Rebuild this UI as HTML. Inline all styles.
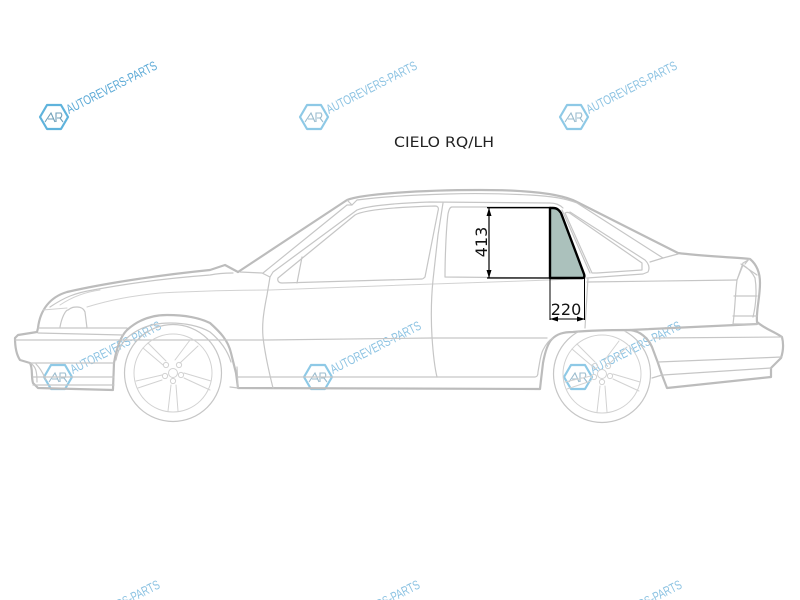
<!DOCTYPE html>
<html><head><meta charset="utf-8"><style>
html,body{margin:0;padding:0;background:#fff;width:800px;height:600px;overflow:hidden}
svg{display:block}
.o{fill:none;stroke:#bcbcbc;stroke-width:2.2;stroke-linejoin:round;stroke-linecap:round}
.m{fill:none;stroke:#c6c6c6;stroke-width:1.2;stroke-linejoin:round;stroke-linecap:round}
.t{fill:none;stroke:#d2d2d2;stroke-width:1;stroke-linejoin:round;stroke-linecap:round}
.d{font-family:"DejaVu Sans",sans-serif;font-size:16px;fill:#111}
.wm{font-family:"Liberation Sans",sans-serif;font-size:13px;fill:#5aa9d6}
.soft{filter:blur(.3px)}
</style></head><body>
<svg width="800" height="600" viewBox="0 0 800 600" xmlns="http://www.w3.org/2000/svg">
<defs>
<clipPath id="rc"><rect x="540" y="331.5" width="130" height="100"/></clipPath>
<g id="wh">
<circle r="39" class="t"/>
<circle r="4.5" class="t"/>
<circle cx="-7" cy="-8" r="2.6" class="t"/><circle cx="6" cy="-8" r="2.6" class="t"/><circle cx="8" cy="2" r="2.6" class="t"/><circle cx="0" cy="8" r="2.6" class="t"/><circle cx="-8" cy="3" r="2.6" class="t"/>
<path class="t" d="M-37 8L-11 2M-35 15L-11 7M38 8L11 0M37 17L11 5M-5 38L-2 12M5 38L3 12M-25 -30L-7 -12M-30 -25L-10 -8M17 -33L2 -13M25 -27L7 -10"/>
</g>
<g id="logo">
<path d="M-7 -12H7L14 0L7 12H-7L-14 0Z" fill="none" stroke="#5fb3dc" stroke-width="2.2" stroke-linejoin="round"/>
<path d="M-9 5L-3 -4L1 5M-6 2H0M2 5V-4H7Q9 -1 6 1H3M6 1L9 5" fill="none" stroke="#6f9fb8" stroke-width="1.1"/>
</g>
<g id="wmk">
<use href="#logo"/>
<text class="wm" x="0" y="0" transform="translate(15,-3) rotate(-27)" textLength="100" lengthAdjust="spacingAndGlyphs">AUTOREVERS-PARTS</text>
</g>
</defs>

<g class="soft">
<use href="#wmk" x="54" y="117"/>
<use href="#wmk" x="314" y="117" opacity=".7"/>
<use href="#wmk" x="574" y="117" opacity=".7"/>
<use href="#wmk" x="58" y="377" opacity=".7"/>
<use href="#wmk" x="318" y="377" opacity=".7"/>
<use href="#wmk" x="578" y="377" opacity=".7"/>
<g opacity=".7">
<text class="wm" transform="translate(119,609) rotate(-27)" textLength="47" lengthAdjust="spacingAndGlyphs">RS-PARTS</text>
<text class="wm" transform="translate(379,609) rotate(-27)" textLength="47" lengthAdjust="spacingAndGlyphs">RS-PARTS</text>
<text class="wm" transform="translate(641,609) rotate(-27)" textLength="47" lengthAdjust="spacingAndGlyphs">RS-PARTS</text>
</g>

<!-- roof and rear outer -->
<path class="o" d="M238 272L347 200C362 194 420 190 480 190C530 190 562 194 577 202L678 253C700 256 730 257 750 259C756 264 760 272 760 283C760 298 756 310 757 322C765 329 775 332 782 337C784 345 783 352 781 358L771 368L771 377L667 388L662 375"/>
<!-- hood + bumper -->
<path class="o" d="M238 272L225 265L210 270C170 274 110 282 67 292C50 297 40 310 38 328L37 332L18 335L15 338C15 347 16 354 20 360L30 363C33 368 31 377 33 383L38 388L113 390"/>
<path class="o" d="M113 389L114 363C117 345 122 335 127 330C138 320 152 315 167 315C185 315 200 318 210 323C220 332 228 340 231 353L236 373L238 388L540 389L541 380"/>
<!-- rear arch outer -->
<path class="o" d="M541 380L543 363C545 352 548 343 552 339C557 334 563 332 573 332C595 330 615 330 630 330C640 331 648 338 652 347L658 363L662 375"/>
<path class="o" d="M630 330L757 324"/>

<path class="m" d="M38 328H127M38 333L123 335M15 340H123M30 363H114M33 377H114M33 385H114"/>
<path class="m" d="M30 363C36 366 37 372 37 382M36 364C42 370 44 376 46 380"/>
<!-- hood lines -->
<path class="t" d="M43 310L67 308M87 307C110 300 130 296 160 293C200 291 240 290 270 290L433 284L550 280L587 278"/>
<path class="m" d="M50 307C65 297 75 293 93 290C130 283 170 278 210 275C220 273 228 273 233 273"/>
<path class="t" d="M60 305C72 297 85 292 100 290"/>
<path class="m" d="M60 327C62 316 66 310 68 310C72 307 74 307 77 307C81 307 84 309 85 312L87 328"/>
<!-- front arch inner -->
<path class="m" d="M116 360C118 350 122 343 127 338C138 328 152 323 170 323C185 323 200 326 210 332C222 342 228 352 231 362"/>
<!-- A pillar / cowl -->
<path class="m" d="M240 272L262 273L270 277L267 295C263 315 262 325 263 337C265 355 269 372 273 388"/>
<path class="m" d="M263 273L347 205L352 205M347 200L352 205"/>
<!-- roof inner -->
<path class="m" d="M352 205L357 200C380 197 410 195 447 194C480 193 510 194 530 195C550 196 565 198 577 203L663 258L678 254"/>
<path class="m" d="M650 262L663 258"/>
<!-- frame above windows -->
<path class="m" d="M270 277L273 272L357 210C370 205 400 203 430 202L550 203C556 203 560 205 563 208"/>
<!-- front door window -->
<path class="m" d="M278 278L355 215C365 209 400 207 435 206C438 206 439 208 438 211L425 277C424 278 423 279 422 279L282 283C279 283 277 281 278 278Z"/>
<path class="m" d="M302 257L297 283"/>
<!-- B pillar / door -->
<path class="m" d="M443 203L438 235L433 280C431 300 431 320 432 337C433 352 434 365 437 377"/>
<!-- rear door window -->
<path class="m" d="M550 207L452 207C450 207 449 209 448 214C446 230 445 260 445 277L550 278"/>
<!-- rear quarter window -->
<path class="m" d="M565 213C567 212 569 212 571 214L642 263V270L597 273L592 273Z"/>
<path class="m" d="M570 212L645 260C649 264 650 268 648 272L643 274L587 278"/>
<path class="m" d="M562 210L590 273"/>
<!-- rear door shut -->
<path class="m" d="M588 278L585 328"/>
<path class="m" d="M587 282L737 280"/>
<!-- body lines -->
<path class="m" d="M124 340H265L432 338L547 338"/>
<path class="m" d="M238 377H535C537 377 538 375 538 372C540 360 541 354 543 350C546 344 549 340 553 338"/>
<path class="m" d="M230 387L238 388"/>
<path class="m" d="M237 367L238 388"/>
<!-- rear bumper lines -->
<path class="m" d="M653 338L782 337M658 362L782 357M663 375L771 368M652 378L662 375"/>
<!-- tail lamp -->
<path class="m" d="M733 324C735 310 735 296 737 280L743 263L750 259M737 280L743 265C748 268 752 272 755 278M741 264L757 275M749 259L745 264M734 296H757M733 316H757M733 324H757"/>
<path class="m" d="M755 278C757 290 756 305 753 317"/>

<g><use href="#wh" x="173" y="373"/><circle cx="173" cy="373" r="48.5" class="m"/></g>
<g><use href="#wh" x="602" y="374"/><circle cx="602" cy="374" r="48.5" class="m" clip-path="url(#rc)"/></g>
</g>

<path d="M550 278V208H553C557 208 559 210 561 213L584 274C585 277 584 278 582 278Z" fill="#abc1bc" stroke="#000" stroke-width="2.4" stroke-linejoin="round"/>

<g stroke="#000" fill="none">
<path d="M487 207.7H551" stroke-width="1.3"/>
<path d="M487 278H551" stroke-width="1.3"/>
<path d="M489 208V278" stroke-width="1.2"/>
<path d="M550 278V320M584.5 278V320" stroke-width="1"/>
<path d="M550 319H585" stroke-width="1.1"/>
</g>
<path d="M489 208L486.5 216H491.5ZM489 278L486.5 270H491.5ZM550 319L558 316.5V321.5ZM585 319L577 316.5V321.5Z" fill="#000"/>
<text class="d" transform="translate(487,242) rotate(-90)" text-anchor="middle">413</text>
<text class="d" x="566" y="315" text-anchor="middle">220</text>
<text x="444" y="147" text-anchor="middle" font-family="'DejaVu Sans',sans-serif" font-size="14" fill="#222" textLength="100" lengthAdjust="spacingAndGlyphs">CIELO RQ/LH</text>
</svg>
</body></html>
